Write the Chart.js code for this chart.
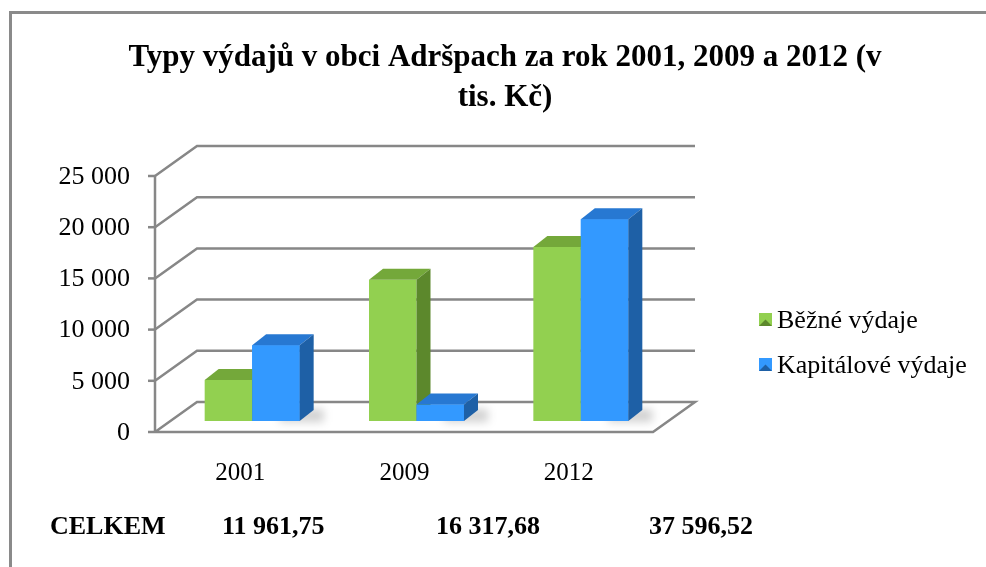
<!DOCTYPE html>
<html>
<head>
<meta charset="utf-8">
<script src="https://cdn.jsdelivr.net/npm/chart.js@4.4.0/dist/chart.umd.min.js"></script>
<style>
  html, body { margin:0; padding:0; background:#fff; overflow:hidden; }
  #obal { position:relative; width:986px; height:567px; }
  #ramecek { position:absolute; left:9px; top:11px; width:1000px; height:600px;
             border-left:3px solid #8a8a8a; border-top:3px solid #8a8a8a; }
  canvas { position:absolute; left:0; top:0; }
  .soucet { position:absolute; top:511px; line-height:30px; white-space:nowrap;
            font:bold 26px 'Liberation Serif', serif; color:#000; }
</style>
</head>
<body>
<div id="obal">
  <div id="ramecek"></div>
  <canvas id="grafVydaje" width="986" height="567"></canvas>
</div>
<script>
    // Data
    const roky = ['2001', '2009', '2012'];
    const bezneVydaje = [4000, 13800, 17000];
    const kapitaloveVydaje = [7400, 1600, 19700];
    const nazvyRad = ['Běžné výdaje', 'Kapitálové výdaje'];
    const popiskyY = ['0', '5 000', '10 000', '15 000', '20 000', '25 000'];
    const celkem = ['11 961,75', '16 317,68', '37 596,52'];

    // Barvy stěn kvádrů
    const barvy = [
      { celo:'#92D050', vrch:'#74A83A', bok:'#5C882C' },
      { celo:'#3399FF', vrch:'#2778D2', bok:'#1E60A6' }
    ];

    // Řádek CELKEM pod grafem
    const obal = document.getElementById('obal');
    const sloupceX = [50, 222, 436, 649];
    ['CELKEM'].concat(celkem).forEach((t, i) => {
      const d = document.createElement('div');
      d.className = 'soucet';
      d.style.left = sloupceX[i] + 'px';
      d.textContent = t;
      obal.appendChild(d);
    });

    const HX = 14, HY = 11;   // hloubka kvádru

    // Zadní stěna, podlaha a mřížka
    const stena = {
      id: 'stena',
      beforeDatasetsDraw(chart) {
        const { ctx, chartArea: a, scales: { y } } = chart;
        const fx = a.left - 15, bx = a.left + 27, rx = a.right + 32;
        ctx.save();
        // stín pod kvádry
        ctx.filter = 'blur(4px)';
        ctx.fillStyle = 'rgba(0,0,0,0.18)';
        chart.getDatasetMeta(1).data.forEach(el => {
          const x1 = el.x + el.width / 2;
          ctx.fillRect(x1 - 20, el.base - 12, HX + 30, 13);
        });
        ctx.filter = 'none';
        ctx.strokeStyle = '#878787';
        ctx.lineWidth = 2.5;
        y.ticks.forEach(t => {
          const py = y.getPixelForValue(t.value);
          ctx.beginPath();
          ctx.moveTo(fx, py + 11);
          ctx.lineTo(bx, py - 19);
          ctx.lineTo(rx, py - 19);
          if (t.value === 0) {
            ctx.lineTo(rx - 42, py + 11);
            ctx.lineTo(fx, py + 11);
          }
          ctx.stroke();
          ctx.beginPath();
          ctx.moveTo(fx - 7, py + 11);
          ctx.lineTo(fx, py + 11);
          ctx.stroke();
        });
        ctx.beginPath();
        ctx.moveTo(fx, y.getPixelForValue(y.max) + 11);
        ctx.lineTo(fx, y.getPixelForValue(0) + 11);
        ctx.stroke();
        ctx.restore();
      }
    };

    // Horní a boční stěny kvádrů
    const kvadry = {
      id: 'kvadry',
      afterDatasetsDraw(chart) {
        const ctx = chart.ctx;
        const metas = [0, 1].map(i => chart.getDatasetMeta(i));
        ctx.save();
        roky.forEach((r, i) => {
          metas.forEach((m, d) => {
            const el = m.data[i];
            const x0 = el.x - el.width / 2, x1 = el.x + el.width / 2;
            if (d > 0) el.draw(ctx);
            ctx.fillStyle = barvy[d].vrch;
            ctx.beginPath();
            ctx.moveTo(x0, el.y); ctx.lineTo(x1, el.y);
            ctx.lineTo(x1 + HX, el.y - HY); ctx.lineTo(x0 + HX, el.y - HY);
            ctx.closePath(); ctx.fill();
            ctx.fillStyle = barvy[d].bok;
            ctx.beginPath();
            ctx.moveTo(x1, el.y); ctx.lineTo(x1 + HX, el.y - HY);
            ctx.lineTo(x1 + HX, el.base - HY); ctx.lineTo(x1, el.base);
            ctx.closePath(); ctx.fill();
          });
        });
        ctx.restore();
      }
    };

    // Legenda vpravo
    const legenda = {
      id: 'legenda',
      afterDraw(chart) {
        const ctx = chart.ctx;
        ctx.save();
        ctx.font = "26px 'Liberation Serif'";
        ctx.textBaseline = 'middle';
        chart.data.datasets.forEach((ds, i) => {
          const ly = 313 + i * 45;
          ctx.fillStyle = barvy[i].celo;
          ctx.fillRect(759, ly, 13, 13);
          ctx.fillStyle = barvy[i].bok;
          ctx.beginPath();
          ctx.moveTo(759, ly + 13); ctx.lineTo(765.5, ly + 6.5); ctx.lineTo(772, ly + 13);
          ctx.closePath(); ctx.fill();
          ctx.fillStyle = '#000';
          ctx.fillText(ds.label, 777, ly + 8);
        });
        ctx.restore();
      }
    };

    Chart.defaults.font.family = "'Liberation Serif', serif";
    Chart.defaults.color = '#000';

    new Chart(document.getElementById('grafVydaje'), {
      type: 'bar',
      data: {
        labels: roky,
        datasets: [
          { label: nazvyRad[0], data: bezneVydaje, backgroundColor: barvy[0].celo },
          { label: nazvyRad[1], data: kapitaloveVydaje, backgroundColor: barvy[1].celo }
        ]
      },
      options: {
        responsive: false,
        animation: false,
        categoryPercentage: 0.578,
        barPercentage: 1,
        layout: { padding: { left: 24, top: 12, right: 0, bottom: 0 } },
        plugins: {
          legend: { display: false },
          tooltip: { enabled: false },
          title: {
            display: true,
            text: ['Typy výdajů v obci Adršpach za rok 2001, 2009 a 2012 (v', 'tis. Kč)'],
            color: '#000',
            font: { size: 31, weight: 'bold', lineHeight: 1.3 },
            padding: { top: 26, bottom: 46.4 }
          }
        },
        scales: {
          x: {
            grid: { display: false, drawTicks: false },
            border: { display: false },
            ticks: { font: { size: 25 }, padding: 37, labelOffset: -12, maxRotation: 0 },
            afterFit: s => { s.height = 146; s.paddingLeft = 0; s.paddingRight = 0; }
          },
          y: {
            min: 0, max: 25000,
            grid: { display: false, drawTicks: false },
            border: { display: false },
            ticks: { stepSize: 5000, font: { size: 26 }, padding: 40, labelOffset: 12,
                     callback: (v, i) => popiskyY[i] },
            afterFit: s => { s.width = 146; s.paddingTop = 0; s.paddingBottom = 0; }
          },
          mezera: {
            type: 'linear', position: 'right',
            grid: { display: false, drawTicks: false },
            border: { display: false },
            ticks: { display: false },
            afterFit: s => { s.width = 323; s.paddingTop = 0; s.paddingBottom = 0; }
          }
        }
      },
      plugins: [stena, kvadry, legenda]
    });
</script>
</body>
</html>
